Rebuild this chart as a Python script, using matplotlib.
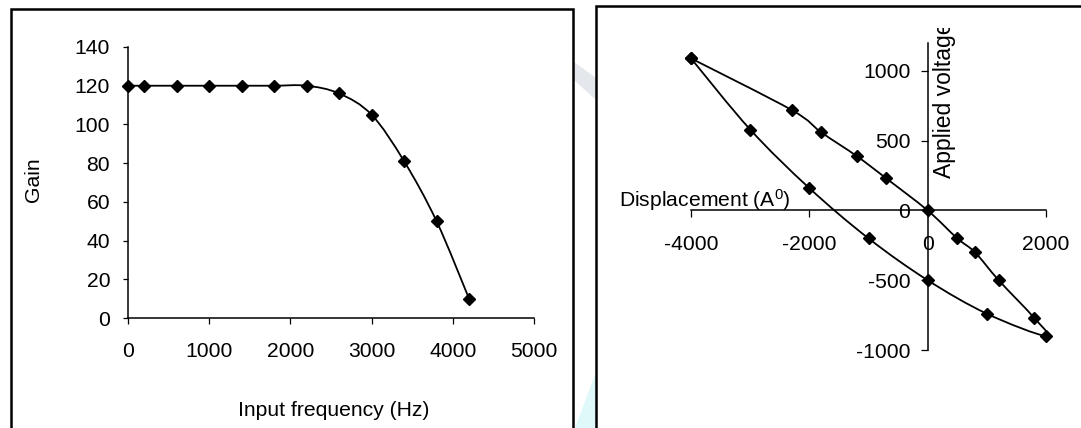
import numpy as np
import matplotlib
matplotlib.use('Agg')
import matplotlib.pyplot as plt
from matplotlib.path import Path
from matplotlib.patches import PathPatch, Rectangle, Polygon
from matplotlib.transforms import Bbox, TransformedBbox

# gain vs frequency
freq = [0, 200, 600, 1000, 1400, 1800, 2200, 2600, 3000, 3400, 3800, 4200]
gain = [120, 120, 120, 120, 120, 120, 120, 116, 105, 81, 50, 10]

# hysteresis loop: displacement vs applied voltage
disp = [-4000, -2300, -1800, -1200, -700, 0, 500, 800, 1200, 1800, 2000,
        1000, 0, -1000, -2000, -3000, -4000]
volt = [1090, 720, 560, 390, 230, 0, -200, -300, -500, -770, -900,
        -740, -500, -200, 160, 580, 1090]

freq_ticks = [0, 1000, 2000, 3000, 4000, 5000]
gain_ticks = [0, 20, 40, 60, 80, 100, 120, 140]
disp_ticks = [-4000, -2000, 0, 2000]
volt_ticks = [-1000, -500, 0, 500, 1000]

plt.rcParams['font.family'] = ['Liberation Sans', 'DejaVu Sans']
plt.rcParams['font.size'] = 15.2
plt.rcParams['axes.unicode_minus'] = False
plt.rcParams['mathtext.fontset'] = 'custom'
plt.rcParams['mathtext.rm'] = 'Liberation Sans'
plt.rcParams['mathtext.it'] = 'Liberation Sans'

W, H = 1081, 428


def fx(x):
    return x / W


def fy(y):
    return 1 - y / H


def smooth(ax, xs, ys):
    # excel style smoothed line (catmull-rom as bezier)
    p = np.column_stack([xs, ys]).astype(float)
    n = len(p)
    verts = [p[0]]
    codes = [Path.MOVETO]
    for i in range(n - 1):
        p0 = p[i - 1] if i > 0 else p[i]
        p3 = p[i + 2] if i + 2 < n else p[i + 1]
        verts += [p[i] + (p[i + 1] - p0) / 6, p[i + 1] - (p3 - p[i]) / 6, p[i + 1]]
        codes += [Path.CURVE4] * 3
    ax.add_patch(PathPatch(Path(verts, codes), fill=False, lw=1.3,
                           edgecolor='black', zorder=2))


fig = plt.figure(figsize=(W / 100, H / 100), dpi=100)

# faint background marks between panels
fig.patches.append(Polygon([[fx(575), fy(428)], [fx(596), fy(372)], [fx(596), fy(428)]],
                           closed=True, transform=fig.transFigure,
                           facecolor='#dff8fa', edgecolor='none', zorder=0))
fig.patches.append(Polygon([[fx(574), fy(62)], [fx(596), fy(78)], [fx(596), fy(100)], [fx(574), fy(80)]],
                           closed=True, transform=fig.transFigure,
                           facecolor='#e4e8ec', edgecolor='none', zorder=0))

# panel frames
fig.patches.append(Rectangle((fx(11), fy(440)), fx(573 - 11), (440 - 9) / H,
                             transform=fig.transFigure, fill=False,
                             edgecolor='black', lw=1.8, zorder=1))
fig.patches.append(Rectangle((fx(596), fy(440)), fx(1100 - 596), (440 - 6) / H,
                             transform=fig.transFigure, fill=False,
                             edgecolor='black', lw=1.8, zorder=1))

# left chart
ax1 = fig.add_axes([fx(128), fy(318), fx(534 - 128), (318 - 47) / H])
ax1.patch.set_alpha(0)
smooth(ax1, freq, gain)
ax1.plot(freq, gain, linestyle='none', marker='D', ms=6, mfc='black',
         mec='black', mew=1, zorder=3, clip_on=False)
ax1.set_xlim(0, 5000)
ax1.set_ylim(0, 140)
ax1.set_xticks(freq_ticks)
ax1.set_yticks(gain_ticks)
for s in ['top', 'right']:
    ax1.spines[s].set_visible(False)
for s in ['left', 'bottom']:
    ax1.spines[s].set_linewidth(1.1)
ax1.tick_params(axis='x', direction='out', length=4.5, width=0.9, pad=13)
ax1.tick_params(axis='y', direction='out', length=3.8, width=0.9, pad=9)

fig.text(fx(33), fy(180), 'Gain', rotation=90, ha='center', va='center')
fig.text(fx(334), fy(410), 'Input frequency (Hz)', ha='center', va='center')

# right chart
ax2 = fig.add_axes([fx(691), fy(350), fx(1046 - 691), (350 - 43) / H])
ax2.patch.set_alpha(0)
smooth(ax2, disp, volt)
ax2.plot(disp, volt, linestyle='none', marker='D', ms=6.2, mfc='black',
         mec='black', mew=1, zorder=3, clip_on=False)
ax2.set_xlim(-4000, 2000)
ax2.set_ylim(-1000, 1200)
ax2.set_xticks(disp_ticks)
ax2.set_yticks(volt_ticks)
for s in ['top', 'right']:
    ax2.spines[s].set_visible(False)
ax2.spines['left'].set_position(('data', 0))
ax2.spines['bottom'].set_position(('data', 0))
for s in ['left', 'bottom']:
    ax2.spines[s].set_linewidth(1.1)
    ax2.spines[s].set_zorder(1)
ax2.tick_params(axis='x', direction='out', length=4.8, width=0.9, pad=13)
ax2.tick_params(axis='y', direction='out', length=5, width=0.9, pad=7.5)

fig.text(fx(619), fy(207), 'Displacement (A$^0$)', ha='left', va='baseline')
t = fig.text(fx(945), fy(178), 'Applied voltage', rotation=90, ha='center',
             va='bottom', fontsize=16.5)
t.set_clip_box(TransformedBbox(Bbox([[0, 0], [1, 1 - 28 / H]]), fig.transFigure))
t.set_clip_on(True)

fig.savefig('out.png', dpi=100)
